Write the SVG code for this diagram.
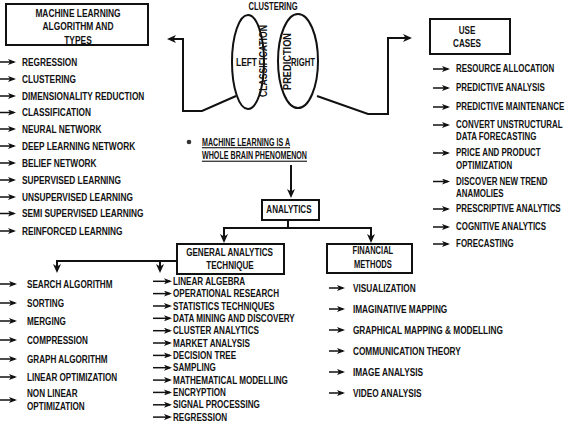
<svg xmlns="http://www.w3.org/2000/svg" width="570" height="425" viewBox="0 0 570 425">
<style>
.t{font-family:"Liberation Sans",Arial,sans-serif;font-weight:bold;font-size:11px;fill:#111}
.s{font-size:10.5px}
.c{text-anchor:middle}
.box{fill:#fff;stroke:#111;stroke-width:2}
.ln{fill:none;stroke:#111;stroke-width:2}
.la{fill:none;stroke:#111;stroke-width:2;marker-end:url(#bah)}
.sa{stroke:#111;stroke-width:1.5;marker-end:url(#sah)}
.u{text-decoration:underline}
</style>
<defs>
<marker id="sah" markerUnits="userSpaceOnUse" viewBox="0 0 8 6" markerWidth="8" markerHeight="6" refX="6" refY="3" orient="auto"><path d="M0,0 L8,3 L0,6 L2,3 z" fill="#111"/></marker>
<marker id="bah" markerUnits="userSpaceOnUse" viewBox="0 0 9 8" markerWidth="9" markerHeight="8" refX="7" refY="4" orient="auto"><path d="M0,0 L9,4 L0,8 L2.5,4 z" fill="#111"/></marker>
</defs>
<rect width="570" height="425" fill="#fff"/>

<g id="connectors">
<polyline class="la" points="236,96 202,111 183,111 183,39 169,39"/>
<polyline class="la" points="317,96 368,114 388,114 388,38 410,38"/>
<line class="la" x1="291" y1="165" x2="291" y2="196"/>
<line class="ln" x1="288" y1="220" x2="288" y2="228"/>
<line class="ln" x1="223" y1="228" x2="372" y2="228"/>
<line class="la" x1="224" y1="228" x2="224" y2="241"/>
<line class="la" x1="371" y1="228" x2="371" y2="241"/>
<line class="ln" x1="177" y1="261" x2="56" y2="261"/>
<line class="la" x1="57" y1="261" x2="57" y2="271"/>
<line class="la" x1="160" y1="261" x2="160" y2="271"/>
<g id="ml-arrows">
<line class="sa" x1="0" y1="62" x2="14" y2="62"/>
<line class="sa" x1="0" y1="79" x2="14" y2="79"/>
<line class="sa" x1="0" y1="96" x2="14" y2="96"/>
<line class="sa" x1="0" y1="112.5" x2="14" y2="112.5"/>
<line class="sa" x1="0" y1="129" x2="14" y2="129"/>
<line class="sa" x1="0" y1="146" x2="14" y2="146"/>
<line class="sa" x1="0" y1="163" x2="14" y2="163"/>
<line class="sa" x1="0" y1="180" x2="14" y2="180"/>
<line class="sa" x1="0" y1="197" x2="14" y2="197"/>
<line class="sa" x1="0" y1="213.5" x2="14" y2="213.5"/>
<line class="sa" x1="0" y1="231" x2="14" y2="231"/>
</g>
<g id="uc-arrows">
<line class="sa" x1="433" y1="69" x2="448" y2="69"/>
<line class="sa" x1="433" y1="88" x2="448" y2="88"/>
<line class="sa" x1="433" y1="107" x2="448" y2="107"/>
<line class="sa" x1="433" y1="125" x2="448" y2="125"/>
<line class="sa" x1="433" y1="153" x2="448" y2="153"/>
<line class="sa" x1="433" y1="181.5" x2="448" y2="181.5"/>
<line class="sa" x1="433" y1="209" x2="448" y2="209"/>
<line class="sa" x1="433" y1="227" x2="448" y2="227"/>
<line class="sa" x1="433" y1="244" x2="448" y2="244"/>
</g>
<g id="alg-arrows">
<line class="sa" x1="0" y1="284" x2="15" y2="284"/>
<line class="sa" x1="0" y1="303" x2="15" y2="303"/>
<line class="sa" x1="0" y1="321" x2="15" y2="321"/>
<line class="sa" x1="0" y1="340" x2="15" y2="340"/>
<line class="sa" x1="0" y1="359" x2="15" y2="359"/>
<line class="sa" x1="0" y1="377" x2="15" y2="377"/>
<line class="sa" x1="0" y1="400" x2="15" y2="400"/>
</g>
<g id="tech-arrows">
<line class="sa" x1="153" y1="281.3" x2="170" y2="281.3"/>
<line class="sa" x1="153" y1="293.6" x2="170" y2="293.6"/>
<line class="sa" x1="153" y1="306" x2="170" y2="306"/>
<line class="sa" x1="153" y1="318.3" x2="170" y2="318.3"/>
<line class="sa" x1="153" y1="330.7" x2="170" y2="330.7"/>
<line class="sa" x1="153" y1="343" x2="170" y2="343"/>
<line class="sa" x1="153" y1="355.4" x2="170" y2="355.4"/>
<line class="sa" x1="153" y1="367.7" x2="170" y2="367.7"/>
<line class="sa" x1="153" y1="380.1" x2="170" y2="380.1"/>
<line class="sa" x1="153" y1="392.4" x2="170" y2="392.4"/>
<line class="sa" x1="153" y1="404.8" x2="170" y2="404.8"/>
<line class="sa" x1="153" y1="417.1" x2="170" y2="417.1"/>
</g>
<g id="fin-arrows">
<line class="sa" x1="329" y1="288" x2="343" y2="288"/>
<line class="sa" x1="329" y1="309" x2="343" y2="309"/>
<line class="sa" x1="329" y1="330" x2="343" y2="330"/>
<line class="sa" x1="329" y1="351" x2="343" y2="351"/>
<line class="sa" x1="329" y1="372" x2="343" y2="372"/>
<line class="sa" x1="329" y1="393" x2="343" y2="393"/>
</g>
</g>

<g id="ml-types">
<rect class="box" x="6" y="4" width="142" height="41"/>
<g transform="scale(0.764 1)">
<text class="t c" x="102.1" y="17">MACHINE LEARNING</text>
<text class="t c" x="102.1" y="30.5">ALGORITHM AND</text>
<text class="t c" x="102.1" y="44">TYPES</text>
</g>
</g>
<g id="ml-types-list" transform="scale(0.754 1)">
<text class="t" x="29.18" y="66">REGRESSION</text>
<text class="t" x="29.18" y="83">CLUSTERING</text>
<text class="t" x="29.18" y="100">DIMENSIONALITY REDUCTION</text>
<text class="t" x="29.18" y="116.5">CLASSIFICATION</text>
<text class="t" x="29.18" y="133">NEURAL NETWORK</text>
<text class="t" x="29.18" y="150">DEEP LEARNING NETWORK</text>
<text class="t" x="29.18" y="167">BELIEF NETWORK</text>
<text class="t" x="29.18" y="184">SUPERVISED LEARNING</text>
<text class="t" x="29.18" y="201">UNSUPERVISED LEARNING</text>
<text class="t" x="29.18" y="217.5">SEMI SUPERVISED LEARNING</text>
<text class="t" x="29.18" y="235">REINFORCED LEARNING</text>
</g>

<g id="brain">
<ellipse class="ln" cx="248" cy="62" rx="16" ry="47"/>
<ellipse class="ln" cx="298" cy="61" rx="20" ry="47"/>
<text class="t s c" transform="scale(0.72 1)" x="379.2" y="10">CLUSTERING</text>
<text class="t" x="236" y="66" textLength="21" lengthAdjust="spacingAndGlyphs">LEFT</text>
<text class="t" x="291" y="66" textLength="24" lengthAdjust="spacingAndGlyphs">RIGHT</text>
<text class="t c" transform="translate(267 61) rotate(-90)" textLength="72" lengthAdjust="spacingAndGlyphs">CLASSIFICATION</text>
<text class="t c" transform="translate(291 61.5) rotate(-90)" textLength="57" lengthAdjust="spacingAndGlyphs">PREDICTION</text>
</g>

<g id="use-cases">
<rect class="box" x="430" y="19" width="80" height="35"/>
<g transform="scale(0.735 1)">
<text class="t c" x="635.4" y="34">USE</text>
<text class="t c" x="635.4" y="47">CASES</text>
</g>
</g>
<g id="use-cases-list" transform="scale(0.7207 1)">
<text class="t" x="632.8" y="72.5">RESOURCE ALLOCATION</text>
<text class="t" x="632.8" y="91.5">PREDICTIVE ANALYSIS</text>
<text class="t" x="632.8" y="110.5">PREDICTIVE MAINTENANCE</text>
<text class="t" x="632.8" y="128.5">CONVERT UNSTRUCTURAL</text>
<text class="t" x="632.8" y="140.5">DATA FORECASTING</text>
<text class="t" x="632.8" y="156.5">PRICE AND PRODUCT</text>
<text class="t" x="632.8" y="169">OPTIMIZATION</text>
<text class="t" x="632.8" y="185">DISCOVER NEW TREND</text>
<text class="t" x="632.8" y="197.5">ANAMOLIES</text>
<text class="t" x="632.8" y="212.5">PRESCRIPTIVE ANALYTICS</text>
<text class="t" x="632.8" y="230.5">COGNITIVE ANALYTICS</text>
<text class="t" x="632.8" y="247.5">FORECASTING</text>
</g>

<g id="whole-brain">
<circle cx="189" cy="142" r="2.3" fill="#333"/>
<g transform="scale(0.649 1)">
<text class="t u" x="311.2" y="146">MACHINE LEARNING IS A</text>
<text class="t u" x="311.2" y="159.5">WHOLE BRAIN PHENOMENON</text>
</g>
</g>

<g id="analytics">
<rect class="box" x="262" y="200" width="57" height="20"/>
<text class="t c" transform="scale(0.73 1)" x="395.8" y="213.5">ANALYTICS</text>
</g>

<g id="general-analytics">
<rect class="box" x="177" y="244" width="107" height="30"/>
<g transform="scale(0.735 1)">
<text class="t c" x="312.3" y="256">GENERAL ANALYTICS</text>
<text class="t c" x="312.9" y="269">TECHNIQUE</text>
</g>
</g>

<g id="financial">
<rect class="box" x="327" y="244" width="85" height="29"/>
<g transform="scale(0.687 1)">
<text class="t c" x="542.8" y="254">FINANCIAL</text>
<text class="t c" x="542.8" y="268">METHODS</text>
</g>
</g>

<g id="algorithms-list" transform="scale(0.7407 1)">
<text class="t" x="36.46" y="288">SEARCH ALGORITHM</text>
<text class="t" x="36.46" y="307">SORTING</text>
<text class="t" x="36.46" y="325">MERGING</text>
<text class="t" x="36.46" y="344">COMPRESSION</text>
<text class="t" x="36.46" y="363">GRAPH ALGORITHM</text>
<text class="t" x="36.46" y="381">LINEAR OPTIMIZATION</text>
<text class="t" x="36.46" y="397">NON LINEAR</text>
<text class="t" x="36.46" y="410">OPTIMIZATION</text>
</g>

<g id="techniques-list" transform="scale(0.773 1)">
<text class="t s" x="223.8" y="285">LINEAR ALGEBRA</text>
<text class="t s" x="223.8" y="297.4">OPERATIONAL RESEARCH</text>
<text class="t s" x="223.8" y="309.7">STATISTICS TECHNIQUES</text>
<text class="t s" x="223.8" y="322.1">DATA MINING AND DISCOVERY</text>
<text class="t s" x="223.8" y="334.4">CLUSTER ANALYTICS</text>
<text class="t s" x="223.8" y="346.8">MARKET ANALYSIS</text>
<text class="t s" x="223.8" y="359.1">DECISION TREE</text>
<text class="t s" x="223.8" y="371.5">SAMPLING</text>
<text class="t s" x="223.8" y="383.8">MATHEMATICAL MODELLING</text>
<text class="t s" x="223.8" y="396.2">ENCRYPTION</text>
<text class="t s" x="223.8" y="408.5">SIGNAL PROCESSING</text>
<text class="t s" x="223.8" y="420.9">REGRESSION</text>
</g>

<g id="financial-list" transform="scale(0.752 1)">
<text class="t" x="469.3" y="292">VISUALIZATION</text>
<text class="t" x="469.3" y="313">IMAGINATIVE MAPPING</text>
<text class="t" x="469.3" y="334">GRAPHICAL MAPPING &amp; MODELLING</text>
<text class="t" x="469.3" y="355">COMMUNICATION THEORY</text>
<text class="t" x="469.3" y="376">IMAGE ANALYSIS</text>
<text class="t" x="469.3" y="397">VIDEO ANALYSIS</text>
</g>
</svg>
